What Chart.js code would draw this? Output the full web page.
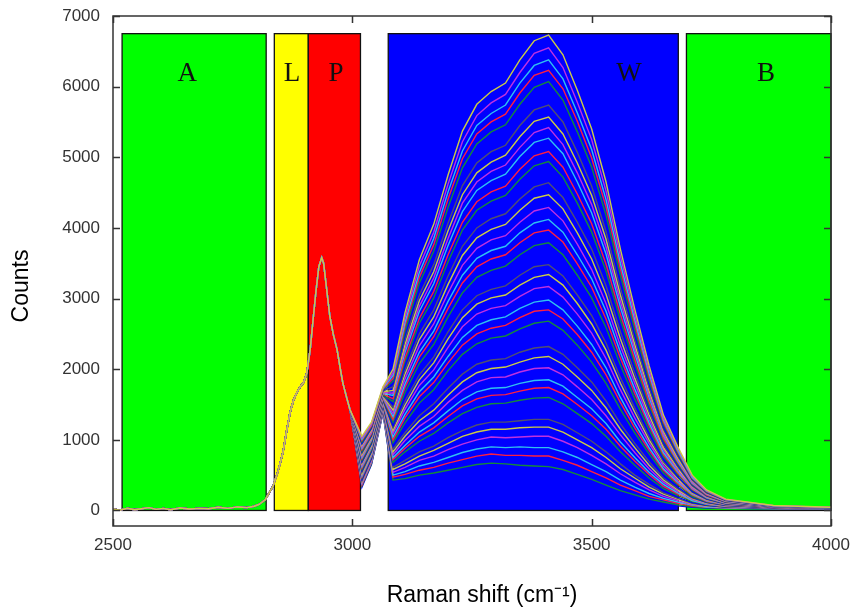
<!DOCTYPE html>
<html><head><meta charset="utf-8">
<script src="https://cdn.jsdelivr.net/npm/chart.js@4.4.0/dist/chart.umd.min.js"></script>
<style>html,body{margin:0;padding:0;background:#fff;}#wrap{width:854px;height:608px;}</style>
</head><body><div id="wrap"><canvas id="c" width="854" height="608"></canvas></div>
<script>
// ---- data ----
const xTicks = [2500, 3000, 3500, 4000];
const yTicks = [0, 1000, 2000, 3000, 4000, 5000, 6000, 7000];

const regionNames = ['A', 'L', 'P', 'W', 'B'];
const regionFrom = [2519, 2837, 2908, 3075, 3698];
const regionTo = [2820, 2908, 3017, 3681, 4000];
const regionHeight = 6750;
const regionLabelShift = [2655, 2874, 2966, 3578, 3864];
const regionLabelCounts = 6180;

// shared C-H (lipid / protein) part, identical for all spectra
const lipidShift = [2500,2515,2530,2545,2560,2575,2590,2605,2620,2640,2660,2680,2700,2720,2740,2760,2780,2795,2805,2818,2834,2845,2855,2862,2870,2877,2884,2892,2898,2905,2912,2918,2924,2930,2936,2940,2944,2953,2960,2968,2975,2980,2988,2995];
const lipidCounts = [20,5,30,10,25,40,15,30,10,35,20,30,25,45,30,50,40,60,85,150,340,560,820,1100,1390,1560,1670,1760,1810,1950,2280,2700,3100,3450,3580,3500,3270,2750,2500,2280,2000,1810,1600,1430];

// O-H (water) part, one row per spectrum (top to bottom)
const waterShift = [3020,3040,3064,3085,3110,3140,3170,3200,3230,3260,3290,3320,3350,3380,3410,3440,3470,3500,3530,3560,3590,3620,3650,3680,3710,3740,3780,3880,4000];
const s01 = [1050,1250,1750,2000,2800,3550,4050,4750,5370,5750,5930,6050,6380,6650,6730,6450,5950,5400,4650,3700,2850,2050,1350,900,500,290,160,70,45];
const s02 = [1030,1230,1740,1950,2730,3460,3940,4620,5220,5590,5770,5890,6200,6470,6550,6270,5780,5250,4520,3600,2770,1990,1310,880,490,282,156,69,44];
const s03 = [1010,1220,1730,1910,2660,3370,3850,4510,5090,5450,5620,5740,6050,6300,6380,6110,5630,5110,4400,3500,2700,1940,1280,850,470,275,153,67,44];
const s04 = [990,1200,1720,1870,2610,3300,3760,4410,4980,5330,5500,5610,5910,6160,6230,5970,5510,4990,4300,3420,2640,1900,1250,830,460,270,150,66,43];
const s05 = [970,1190,1710,1830,2540,3220,3670,4290,4850,5190,5360,5460,5750,5990,6070,5810,5360,4860,4180,3330,2560,1840,1220,810,450,263,146,65,42];
const s06 = [950,1170,1700,1790,2480,3130,3570,4180,4720,5050,5210,5310,5600,5830,5900,5650,5210,4720,4060,3230,2490,1790,1180,790,440,256,143,64,42];
const s07 = [940,1160,1690,1750,2420,3050,3480,4070,4600,4920,5080,5170,5450,5670,5740,5500,5070,4590,3950,3150,2420,1740,1150,770,430,249,139,63,41];
const s08 = [920,1140,1680,1700,2350,2970,3380,3960,4470,4780,4930,5030,5290,5510,5570,5330,4920,4460,3840,3050,2350,1690,1120,740,420,243,136,62,40];
const s09 = [900,1120,1670,1660,2290,2890,3290,3850,4350,4650,4800,4890,5140,5350,5420,5180,4780,4330,3730,2960,2280,1640,1080,720,400,236,133,61,40];
const s10 = [880,1110,1660,1630,2240,2820,3210,3750,4230,4530,4670,4760,5010,5210,5270,5050,4650,4210,3630,2880,2220,1600,1060,700,390,230,130,59,39];
const s11 = [860,1090,1650,1580,2160,2720,3100,3620,4080,4370,4510,4590,4830,5020,5080,4860,4480,4060,3490,2780,2140,1540,1020,680,380,222,126,58,38];
const s12 = [840,1080,1640,1540,2110,2650,3010,3520,3970,4250,4380,4460,4690,4880,4940,4720,4350,3940,3390,2700,2080,1490,990,660,370,217,123,57,38];
const s13 = [830,1060,1640,1500,2050,2580,2930,3420,3860,4130,4260,4340,4560,4740,4790,4580,4220,3820,3290,2620,2010,1450,960,640,360,211,120,56,37];
const s14 = [810,1050,1630,1460,1990,2500,2840,3320,3740,4000,4130,4200,4410,4580,4640,4430,4080,3700,3180,2530,1950,1400,930,620,350,204,116,55,37];
const s15 = [790,1030,1620,1420,1930,2420,2740,3200,3610,3860,3980,4050,4250,4420,4470,4270,3930,3560,3060,2430,1870,1350,890,600,340,197,113,54,36];
const s16 = [770,1020,1610,1370,1860,2330,2640,3080,3470,3710,3830,3890,4080,4240,4290,4100,3770,3410,2930,2330,1800,1290,860,570,320,190,109,52,35];
const s17 = [750,1000,1600,1330,1790,2240,2540,2960,3330,3570,3680,3740,3930,4070,4120,3940,3620,3280,2820,2240,1720,1240,820,550,310,183,106,51,35];
const s18 = [730,990,1590,1290,1740,2170,2460,2860,3220,3450,3560,3620,3790,3930,3970,3800,3490,3160,2710,2160,1660,1200,790,530,300,177,103,50,34];
const s19 = [710,970,1580,1250,1670,2080,2350,2740,3080,3300,3400,3460,3620,3750,3790,3620,3330,3010,2590,2060,1580,1140,760,510,290,170,99,49,33];
const s20 = [690,950,1570,1200,1600,1990,2250,2620,2950,3150,3250,3300,3460,3580,3620,3460,3180,2870,2460,1960,1510,1090,720,480,270,163,95,48,33];
const s21 = [680,940,1560,1170,1550,1920,2170,2530,2840,3040,3130,3180,3330,3450,3480,3320,3050,2760,2370,1880,1450,1040,690,470,260,157,92,47,32];
const s22 = [660,920,1550,1130,1490,1850,2090,2430,2730,2920,3010,3050,3190,3300,3340,3190,2930,2640,2270,1800,1390,1000,670,450,250,151,89,46,31];
const s23 = [640,910,1540,1090,1430,1770,1990,2310,2600,2780,2860,2900,3030,3140,3170,3020,2780,2510,2150,1710,1310,950,630,420,240,144,86,44,31];
const s24 = [620,890,1530,1040,1360,1680,1890,2180,2450,2620,2700,2740,2860,2950,2980,2840,2610,2350,2020,1600,1230,890,590,400,230,137,82,43,30];
const s25 = [600,880,1520,1000,1310,1610,1810,2090,2340,2500,2580,2620,2730,2820,2840,2710,2490,2240,1920,1530,1170,850,570,380,220,131,79,42,29];
const s26 = [580,860,1510,960,1240,1520,1710,1980,2210,2360,2440,2470,2570,2650,2680,2550,2340,2100,1800,1430,1100,800,530,360,200,124,76,41,29];
const s27 = [560,840,1500,910,1170,1430,1600,1850,2070,2210,2280,2300,2400,2470,2490,2370,2170,1950,1670,1330,1020,740,490,330,190,117,72,39,28];
const s28 = [540,830,1490,870,1100,1340,1510,1730,1930,2070,2130,2150,2240,2300,2320,2210,2020,1820,1550,1230,950,690,460,310,180,110,68,38,27];
const s29 = [520,810,1480,830,1050,1270,1420,1630,1820,1950,2010,2030,2100,2160,2180,2070,1890,1700,1450,1150,890,640,430,290,170,104,65,37,27];
const s30 = [510,800,1470,790,990,1190,1330,1530,1700,1820,1880,1890,1960,2010,2020,1920,1750,1570,1340,1070,820,590,400,270,160,97,62,36,26];
const s31 = [490,780,1460,750,920,1110,1240,1410,1570,1680,1730,1740,1800,1840,1850,1760,1600,1440,1230,970,750,540,370,250,140,91,58,35,25];
const s32 = [470,770,1450,720,880,1050,1170,1330,1480,1580,1630,1640,1690,1730,1740,1650,1500,1340,1150,910,700,510,340,230,140,86,56,34,25];
const s33 = [460,760,1450,680,830,980,1090,1240,1370,1460,1510,1520,1560,1590,1600,1510,1370,1230,1050,830,640,460,310,210,130,80,53,33,24];
const s34 = [440,740,1440,640,760,900,990,1120,1240,1320,1370,1370,1400,1420,1430,1350,1220,1090,930,730,560,410,280,190,110,73,50,32,24];
const s35 = [420,730,1430,610,710,830,910,1030,1130,1210,1250,1250,1270,1290,1290,1220,1100,980,830,660,500,370,250,170,100,68,47,31,23];
const s36 = [410,720,1420,580,660,770,850,950,1050,1110,1150,1150,1170,1180,1180,1110,1000,890,750,590,460,330,230,160,95,63,44,30,23];
const s37 = [390,700,1410,540,610,710,770,860,940,1000,1040,1030,1040,1050,1050,980,890,780,660,520,400,290,200,140,85,58,42,29,22];
const s38 = [380,690,1400,500,550,630,680,750,820,870,900,890,900,890,890,830,750,650,550,430,330,240,170,120,75,50,38,28,22];
const s39 = [360,680,1400,470,510,570,610,670,720,770,800,780,780,770,770,710,640,550,460,360,280,200,150,100,65,45,36,27,21];
const s40 = [350,660,1390,430,450,500,530,570,610,650,670,660,640,630,620,580,510,440,360,280,220,160,120,80,55,40,33,26,21];
const s41 = [330,650,1380,400,400,430,450,480,510,540,560,540,520,500,490,450,390,330,270,210,160,120,90,65,45,35,30,25,20];
const spectra = [s01,s02,s03,s04,s05,s06,s07,s08,s09,s10,s11,s12,s13,s14,s15,s16,s17,s18,s19,s20,s21,s22,s23,s24,s25,s26,s27,s28,s29,s30,s31,s32,s33,s34,s35,s36,s37,s38,s39,s40,s41];

// ---- styles ----
const lineColors = ['#cccc44', '#c030e0', '#30c0f0', '#ff1f3f', '#158a3a', '#0000ff', '#505070'];
const regionFill = ['#00ff00', '#ffff00', '#ff0000', '#0000ff', '#00ff00'];
const axisColor = '#333333';

const datasets = spectra.map((s, i) => ({
  data: lipidShift.map((v, k) => ({x: v, y: lipidCounts[k]}))
        .concat(waterShift.map((v, k) => ({x: v, y: s[k]}))),
  borderColor: lineColors[i % lineColors.length],
  borderWidth: 1.4,
  pointRadius: 0,
  tension: 0,
  fill: false
}));

const decor = {
  id: 'decor',
  beforeDatasetsDraw(chart) {
    const {ctx, scales: {x, y}} = chart;
    ctx.save();
    const yb = y.getPixelForValue(0), yt = y.getPixelForValue(regionHeight);
    for (let i = 0; i < regionNames.length; i++) {
      const x0 = x.getPixelForValue(regionFrom[i]);
      const x1 = x.getPixelForValue(regionTo[i]);
      ctx.fillStyle = regionFill[i];
      ctx.fillRect(x0, yt, x1 - x0, yb - yt);
      ctx.strokeStyle = '#111';
      ctx.lineWidth = 1.3;
      ctx.strokeRect(x0, yt, x1 - x0, yb - yt);
    }
    ctx.fillStyle = '#111';
    ctx.font = '27px "Liberation Serif"';
    ctx.textAlign = 'center';
    ctx.textBaseline = 'middle';
    for (let i = 0; i < regionNames.length; i++) {
      ctx.fillText(regionNames[i], x.getPixelForValue(regionLabelShift[i]), y.getPixelForValue(regionLabelCounts));
    }
    ctx.restore();
  },
  afterDatasetsDraw(chart) {
    const {ctx, chartArea: a, scales: {x, y}} = chart;
    ctx.save();
    ctx.strokeStyle = axisColor;
    ctx.lineWidth = 1.5;
    ctx.strokeRect(a.left, a.top, a.right - a.left, a.bottom - a.top);
    const tl = 7;
    ctx.beginPath();
    xTicks.forEach(v => {
      const px = Math.round(x.getPixelForValue(v)) + 0.5;
      ctx.moveTo(px, a.bottom); ctx.lineTo(px, a.bottom - tl);
      ctx.moveTo(px, a.top); ctx.lineTo(px, a.top + tl);
    });
    yTicks.forEach(v => {
      const py = Math.round(y.getPixelForValue(v)) + 0.5;
      ctx.moveTo(a.left, py); ctx.lineTo(a.left + tl, py);
      ctx.moveTo(a.right, py); ctx.lineTo(a.right - tl, py);
    });
    ctx.stroke();
    ctx.restore();
  },
  afterDraw(chart) {
    const {ctx} = chart;
    ctx.save();
    ctx.fillStyle = '#000';
    ctx.font = '23px "Liberation Sans"';
    ctx.textAlign = 'center';
    ctx.textBaseline = 'middle';
    ctx.fillText('Raman shift (cm\u207B\u00B9)', 482, 596);
    ctx.translate(22, 286);
    ctx.rotate(-Math.PI / 2);
    ctx.fillText('Counts', 0, 0);
    ctx.restore();
  }
};

new Chart(document.getElementById('c'), {
  type: 'line',
  data: {datasets},
  options: {
    responsive: false,
    animation: false,
    devicePixelRatio: 1,
    layout: {padding: {left: 0, right: 23, top: 16, bottom: 0}},
    plugins: {legend: {display: false}, tooltip: {enabled: false}},
    scales: {
      x: {
        type: 'linear', min: 2500, max: 4000,
        afterBuildTicks: s => { s.ticks = xTicks.map(v => ({value: v})); },
        afterFit: s => { s.height = 82; s.paddingLeft = 0; s.paddingRight = 0; },
        grid: {display: false, drawTicks: false},
        border: {display: false},
        ticks: {padding: 9, color: '#333', font: {family: 'Liberation Sans', size: 17}, maxRotation: 0, autoSkip: false, callback: v => String(v)}
      },
      y: {
        type: 'linear', min: -220, max: 7000,
        afterBuildTicks: s => { s.ticks = yTicks.map(v => ({value: v})); },
        afterFit: s => { s.width = 113; s.paddingTop = 0; s.paddingBottom = 0; },
        grid: {display: false, drawTicks: false},
        border: {display: false},
        ticks: {padding: 13, color: '#333', font: {family: 'Liberation Sans', size: 17}, autoSkip: false, callback: v => String(v)}
      }
    }
  },
  plugins: [decor]
});
</script>
</body></html>
